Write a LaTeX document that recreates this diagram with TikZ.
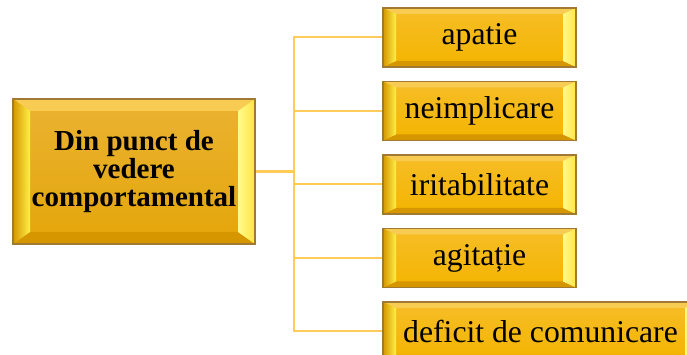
\documentclass[tikz,border=0pt]{standalone}
\usepackage{fontspec}
\setmainfont{Liberation Serif}
\usetikzlibrary{calc,positioning}
\definecolor{my_face}{RGB}{244,180,0}
\definecolor{my_face_top}{RGB}{246,190,40}
\definecolor{my_mface}{RGB}{228,166,10}
\definecolor{my_mface_top}{RGB}{234,178,50}
\definecolor{my_edge}{RGB}{160,122,50}
\definecolor{my_light}{RGB}{255,240,70}
\definecolor{my_pale}{RGB}{255,250,140}
\definecolor{my_dark}{RGB}{214,150,0}
\definecolor{my_line}{RGB}{255,204,90}
\tikzset{
  bevel/.style 2 args = {path picture={
      \coordinate (NW) at (path picture bounding box.north west);
      \coordinate (NE) at (path picture bounding box.north east);
      \coordinate (SW) at (path picture bounding box.south west);
      \coordinate (SE) at (path picture bounding box.south east);
      \fill[my_face_top!80!white] (NW) -- (NE) -- ($(NE)+(-#1,-#2)$) -- ($(NW)+(#1,-#2)$) -- cycle;
      \fill[my_dark] (SW) -- (SE) -- ($(SE)+(-#1,#2)$) -- ($(SW)+(#1,#2)$) -- cycle;
      \shade[left color=my_dark, right color=my_light]
        (NW) -- ($(NW)+(#1,-#2)$) -- ($(SW)+(#1,#2)$) -- (SW) -- cycle;
      \shade[left color=my_pale, right color=my_light!90!orange]
        (NE) -- ($(NE)+(-#1,-#2)$) -- ($(SE)+(-#1,#2)$) -- (SE) -- cycle;
    }},
  mainbox/.style = {draw=my_edge, line width=1.5pt, top color=my_mface_top, bottom color=my_mface,
    minimum width=242pt, minimum height=145pt, inner sep=0pt, align=center,
    font=\fontsize{29}{28}\selectfont\bfseries, bevel={17pt}{12pt}},
  subbox/.style = {draw=my_edge, line width=1.5pt, top color=my_face_top, bottom color=my_face,
    minimum width=193pt, minimum height=59pt, inner sep=0pt,
    font=\fontsize{31.7}{36}\selectfont, bevel={13pt}{6pt}},
  conn/.style = {draw=my_line, line width=2pt}
}

\begin{document}
\begin{tikzpicture}[x=1pt, y=1pt, node distance=13pt]
  \useasboundingbox (0,0) rectangle (687,355);
  \node [mainbox] (main) at (134,183.5) {Din punct de\\vedere\\comportamental};
  \node [subbox] (apatie) at (479.5,317.5) {apatie};
  \node [subbox, below=of apatie] (neimpl) {neimplicare};
  \node [subbox, below=of neimpl] (iritab) {iritabilitate};
  \node [subbox, below=of iritab] (agitatie) {agitație};
  \node [subbox, below=13pt of agitatie.south west, anchor=north west, minimum width=315pt] (deficit) {deficit de comunicare};
  \coordinate (trunk) at (294,183.5);
  % connectors
  \draw[conn, line width=3pt] (main.east) -- (trunk);
  \draw[conn] (trunk) |- (apatie.west);
  \draw[conn] (trunk) |- (neimpl.west);
  \draw[conn] (trunk) |- (iritab.west);
  \draw[conn] (trunk) |- (agitatie.west);
  \draw[conn] (trunk) |- (deficit.west);
\end{tikzpicture}
\end{document}
